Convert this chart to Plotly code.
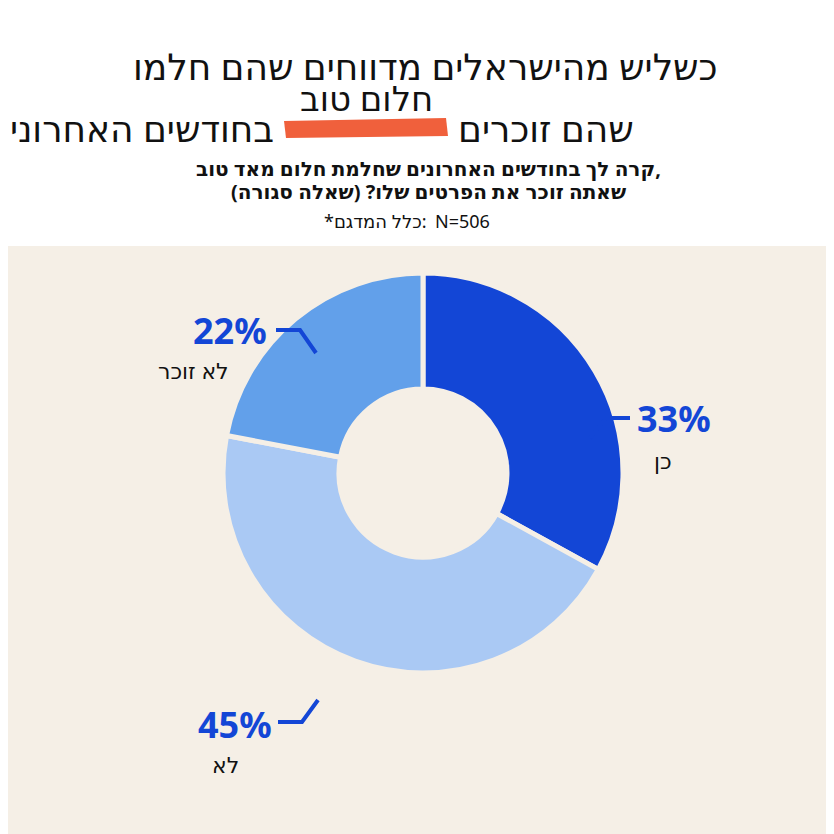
import plotly.graph_objects as go

labels = ["כן", "לא", "לא זוכר"]
values = [33, 45, 22]
colors = ["#1346d6", "#aac9f4", "#62a0ea"]

W = H = 834


def px(x):
    return x / W


def py(y):
    return 1 - y / H


fig = go.Figure()
fig.add_trace(go.Pie(
    labels=labels, values=values, hole=0.42, sort=False, direction="clockwise",
    rotation=0, marker=dict(colors=colors, line=dict(color="#f5efe6", width=5)),
    textinfo="none", showlegend=False,
    domain=dict(x=[px(215), px(615)], y=[py(665), py(265)]),
))

shapes = [
    dict(type="rect", xref="paper", yref="paper", x0=0, x1=1, y0=0, y1=py(238),
         fillcolor="#f5efe6", line=dict(width=0), layer="below"),
    dict(type="path", xref="paper", yref="paper",
         path=f"M {px(276)} {py(113)} L {px(438)} {py(110)} L {px(440)} {py(128)} L {px(278)} {py(130)} Z",
         fillcolor="#f0603c", line=dict(width=0), layer="below"),
]
# leader lines
for (x0, y0, x1, y1, x2, y2) in [
    (268, 322, 292, 322, 308, 345),
    (622, 410, 598, 410, 582, 430),
    (270, 714, 294, 714, 310, 692),
]:
    shapes.append(dict(type="path", xref="paper", yref="paper",
                       path=f"M {px(x0)} {py(y0)} L {px(x1)} {py(y1)} L {px(x2)} {py(y2)}",
                       line=dict(color="#1346d6", width=4)))

ann = []


def text(x, y, s, size, bold=False, color="#111", anchor="center"):
    ann.append(dict(x=px(x), y=py(y), xref="paper", yref="paper", text=f"<b>{s}</b>" if bold else s,
                    showarrow=False, xanchor=anchor, yanchor="middle",
                    font=dict(family="Noto Sans, DejaVu Sans", size=size, color=color)))


text(417, 58, "כשליש מהישראלים מדווחים שהם חלמו", 36)
text(358, 90, "חלום טוב", 34)
text(268, 120, "בחודשים האחרונים", 36, anchor="right")
text(448, 120, "שהם זוכרים", 36, anchor="left")
text(420, 160, "קרה לך בחודשים האחרונים שחלמת חלום מאד טוב,", 20, bold=True)
text(420, 184, "שאתה זוכר את הפרטים שלו? (שאלה סגורה)", 20, bold=True)
text(421, 213, "*כלל המדגם:", 18, anchor="right")
text(425, 213, "N=506", 18, anchor="left")

text(222, 322, f"{values[2]}%", 36, bold=True, color="#1346d6")
text(185, 362, labels[2], 22)
text(666, 410, f"{values[0]}%", 36, bold=True, color="#1346d6")
text(655, 452, labels[0], 22)
text(227, 716, f"{values[1]}%", 36, bold=True, color="#1346d6")
text(217, 756, labels[1], 22)

fig.update_layout(width=W, height=H, margin=dict(l=0, r=0, t=0, b=0),
                  paper_bgcolor="white", plot_bgcolor="white",
                  shapes=shapes, annotations=ann)
fig.write_html("out.html")
